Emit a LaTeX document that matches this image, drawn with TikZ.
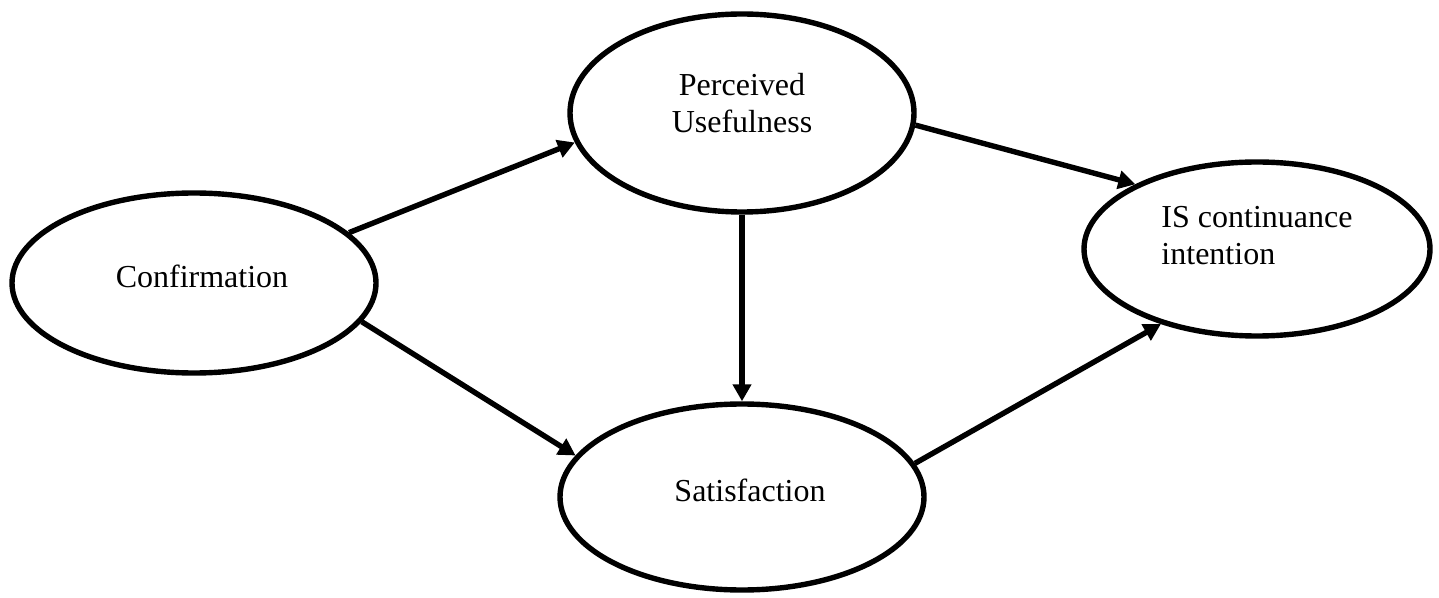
\documentclass[tikz,border=0pt]{standalone}
\usepackage{fontspec}
\setmainfont{Liberation Serif}
\usetikzlibrary{shapes.geometric,arrows.meta}
\newcommand{\lifttext}[2]{\raisebox{#1}[\height][\depth]{#2}}
\tikzset{
  oval/.style={ellipse, draw=black, line width=2.7pt, inner sep=0pt,
    font=\fontsize{16}{18.5}\selectfont, text=black},
  link/.style={line width=2.7pt, -{Triangle[length=8.5pt,width=9pt]}}
}
\begin{document}
\begin{tikzpicture}[x=0.5pt,y=-0.5pt]
\useasboundingbox (0,0) rectangle (1439,598);
\node[oval, minimum width=182pt, minimum height=90pt, text depth=7pt] (conf) at (194,283) {\hspace*{8pt}Confirmation};
\node[oval, minimum width=172pt, minimum height=99pt] (pu) at (742,113)
  {\lifttext{3pt}{\begin{tabular}{@{}c@{}}Perceived\\Usefulness\end{tabular}}};
\node[oval, minimum width=173pt, minimum height=87pt] (is) at (1257,249)
  {\lifttext{5pt}{\begin{tabular}{@{}l@{}}IS continuance\\intention\end{tabular}}};
\node[oval, minimum width=182pt, minimum height=93pt, text depth=7pt] (sat) at (742,497) {\hspace*{8pt}Satisfaction};
\draw[link] (conf.18.5) -- (pu.190.4);
\draw[link] (conf.-13.5) -- (sat.166.9);
\draw[link] (pu.south) -- (sat.north);
\draw[link] (pu.-4.7) -- (is.152.5);
\draw[link] (sat.11.9) -- (is.218);
\end{tikzpicture}
\end{document}
